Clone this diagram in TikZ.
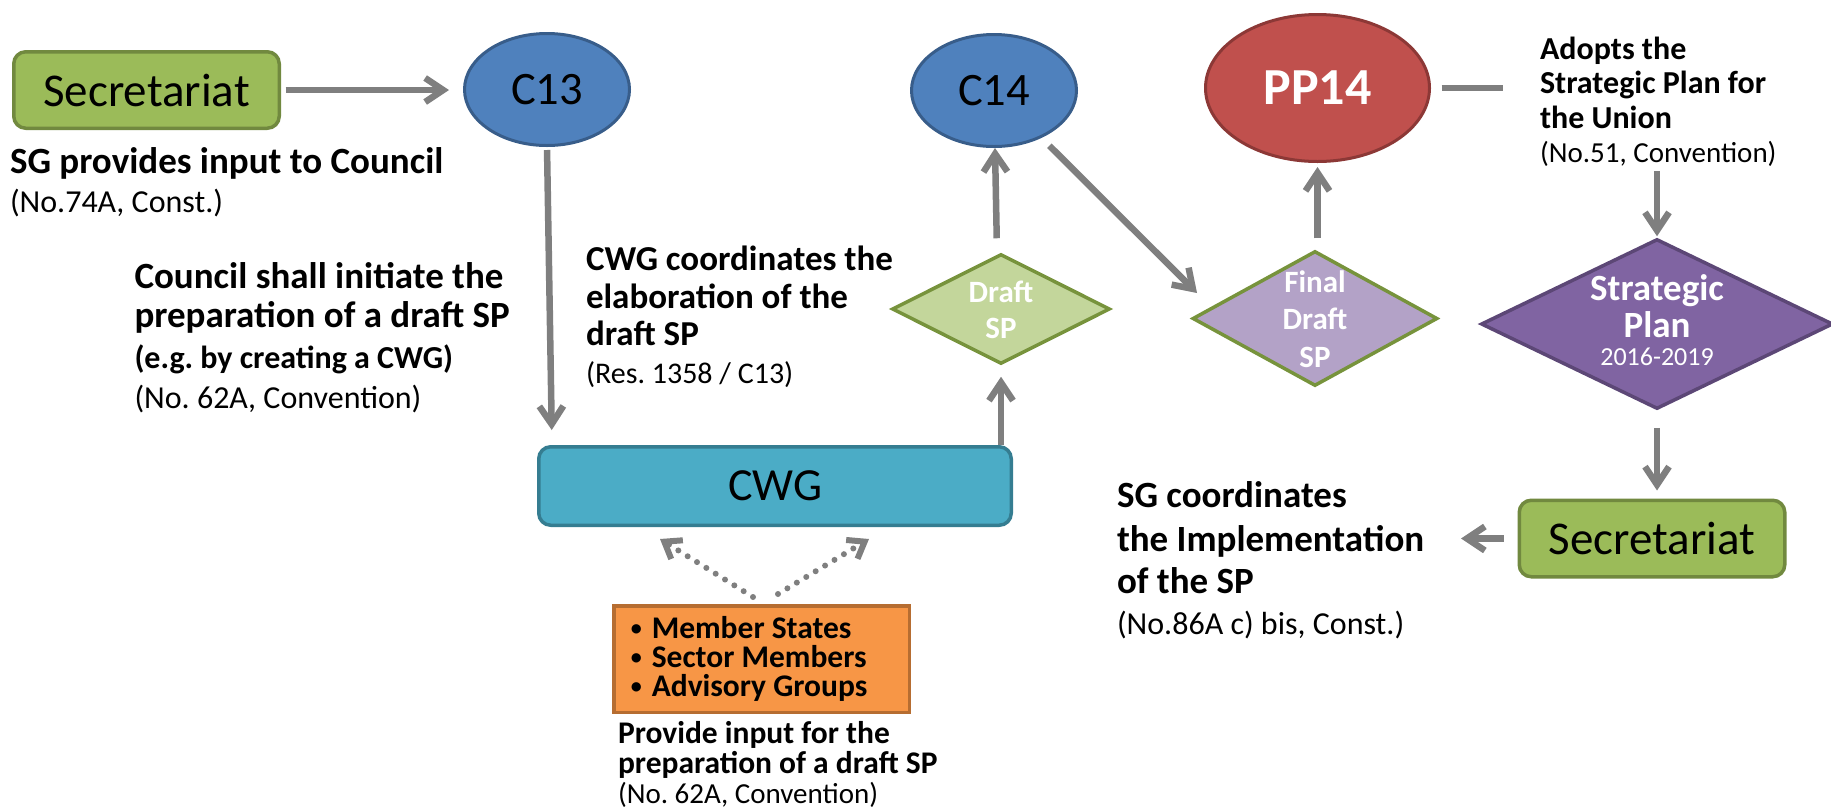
\documentclass[tikz,border=0pt]{standalone}
\usepackage{fontspec}
\setmainfont{Carlito}
\usetikzlibrary{shapes.geometric,arrows.meta}

\definecolor{arrowgray}{HTML}{7F7F7F}
\definecolor{secfill}{HTML}{9BBB59}
\definecolor{secline}{HTML}{71893F}
\definecolor{bluefill}{HTML}{4F81BD}
\definecolor{blueline}{HTML}{385D8A}
\definecolor{redfill}{HTML}{C0504D}
\definecolor{redline}{HTML}{8C3836}
\definecolor{aquafill}{HTML}{4BACC6}
\definecolor{aqualine}{HTML}{357D91}
\definecolor{orangefill}{HTML}{F79646}
\definecolor{orangeline}{HTML}{B66D31}
\definecolor{draftfill}{HTML}{C3D69B}
\definecolor{draftline}{HTML}{77933C}
\definecolor{finalfill}{HTML}{B3A2C7}
\definecolor{planfill}{HTML}{8064A2}
\definecolor{planline}{HTML}{5C4776}

\newcommand{\setfs}[2]{\fontsize{#1}{#2}\selectfont}
% natural inter-word spaces of the current font
\newcommand{\natsp}{\frenchspacing\spaceskip=0pt\xspaceskip=0pt\relax}
\newcommand{\bulletmark}{\makebox[22pt][l]{\hspace*{1pt}\raisebox{3pt}{\fontsize{22}{22}\selectfont •}}}
\AtBeginDocument{\lineskiplimit=-100pt\lineskip=0pt}

\tikzset{
  arr/.style={draw=arrowgray, line width=6.5pt, -{Straight Barb[length=18pt,width=24pt,sharp]}},
  dotarr/.style={draw=arrowgray, line width=6pt, line cap=round, dash pattern=on 0pt off 11pt,
                 -{Straight Barb[length=15pt,width=22pt,sharp]}},
  plainline/.style={draw=arrowgray, line width=6.5pt},
  secbox/.style={rectangle, rounded corners=12pt, fill=secfill, draw=secline, line width=3.5pt,
                 minimum width=265.5pt, minimum height=76.5pt, inner sep=0pt, font=\setfs{47}{56}},
  council/.style={ellipse, fill=bluefill, draw=blueline, line width=3pt, inner sep=0pt,
                  minimum width=165pt, minimum height=112pt, font=\setfs{46.5}{56}},
  diam/.style={diamond, line width=3.5pt, inner sep=0pt},
  dtext/.style={anchor=base, inner sep=0pt, text width=200pt, align=center, text=white, font=\bfseries},
  note/.style={anchor=base west, inner sep=0pt, outer sep=0pt, text width=520pt, align=left}
}

\begin{document}
\begin{tikzpicture}[x=1pt,y=-1pt]
\useasboundingbox (0,0) rectangle (1831,807);

% ---- main shapes ----
\node[secbox] (sec1) at (146.5,90) {Secretariat};
\node[council] (C13) at (547,89.5) {C13};
\node[council] (C14) at (994,90.5) {C14};
\node[ellipse, fill=redfill, draw=redline, line width=3pt, inner sep=0pt,
      minimum width=224pt, minimum height=147pt, text=white,
      font=\setfs{52}{60}\bfseries] (PP14) at (1317.5,88) {PP14};

\node[rectangle, rounded corners=12pt, fill=aquafill, draw=aqualine, line width=3.5pt,
      minimum width=472.5pt, minimum height=78.5pt, inner sep=0pt,
      font=\setfs{46}{56}] (CWG) at (775,486) {CWG};

\node[diam, fill=draftfill, draw=draftline, minimum width=218pt, minimum height=110pt] (dsp) at (1001,309) {};
\node[dtext] (dspT) at (1001,302) {\setfs{31}{36}Draft\par SP\par};

\node[diam, fill=finalfill, draw=draftline, minimum width=245pt, minimum height=135pt] (fds) at (1315,318.5) {};
\node[dtext] (fdsT) at (1315,292) {\setfs{31}{37}Final\par Draft\par \setfs{31}{38}SP\par};

\node[diam, fill=planfill, draw=planline, minimum width=352pt, minimum height=170pt] (spd) at (1657,324) {};
\node[dtext] (spdT) at (1657,300) {\setfs{37}{37}Strategic\par Plan\par \setfs{26}{28}\mdseries 2016-2019\par};

\node[secbox] (sec2) at (1652,538.5) {Secretariat};

\node[rectangle, fill=orangefill, draw=orangeline, line width=3.5pt,
      minimum width=295.5pt, minimum height=106.5pt, inner xsep=16pt, inner ysep=0pt,
      text width=263.5pt, align=left] (grp) at (761.5,659)
  {\natsp\setfs{31.5}{29}\bfseries \bulletmark Member States\par \bulletmark Sector Members\par \bulletmark Advisory Groups\par};

% ---- explanatory texts ----
\node[note] (sgin) at (10,173)
  {\natsp\setfs{37}{39}\bfseries SG provides input to Council\par
   \setfs{32}{39}\mdseries (No.74A, Const.)\par};
\node[note] (init) at (134.5,288)
  {\natsp\setfs{37}{39}\bfseries Council shall initiate the\par preparation of a draft SP\par
   \setfs{32}{41}(e.g. by creating a CWG)\par
   \setfs{32}{40}\mdseries (No. 62A, Convention)\par};
\node[note] (coord) at (586,270)
  {\natsp\setfs{35}{38}\bfseries CWG coordinates the\par elaboration of the\par
   \setfs{35}{37}draft SP\par
   \setfs{30}{38}\mdseries (Res. 1358 / C13)\par};
\node[note] (adopt) at (1540,59)
  {\natsp\setfs{32}{34}\bfseries Adopts the\par Strategic Plan for\par
   \setfs{32}{35}the Union\par
   \setfs{29}{34}\mdseries (No.51, Convention)\par};
\node[note] (impl) at (1117,507)
  {\natsp\setfs{37}{44}\bfseries SG coordinates\par the Implementation\par
   \setfs{37}{42}of the SP\par
   \setfs{32}{41}\mdseries (No.86A c) bis, Const.)\par};
\node[note] (prov) at (618,743)
  {\natsp\setfs{31.5}{30}\bfseries Provide input for the\par preparation of a draft SP\par
   \setfs{29}{30}\mdseries (No. 62A, Convention)\par};

% ---- free connector ends ----
\coordinate (fdsTip) at (1197,293);
\coordinate (adoptL) at (1503,88);
\coordinate (implTip) at (1461,538.5);

% ---- connectors ----
\draw[arr, shorten <=4.5pt, shorten >=14pt] (sec1.east) -- (sec1.east -| C13.west);
\draw[arr, shorten <=3pt, shorten >=15pt] (C13.south) -- ([xshift=5pt]C13.south |- CWG.north);
\draw[arr, shorten >=11pt] (dsp.south |- CWG.north) -- (dsp.south);
\draw[arr, shorten <=14pt] ([xshift=-4pt]dsp.north) -- ([xshift=1pt]C14.south);
\draw[arr, shorten <=11pt] (C14) -- (fdsTip);
\draw[arr, shorten <=11pt, shorten >=4pt] (PP14.south |- fds.north) -- (PP14.south);
\draw[plainline, shorten <=10.5pt] (PP14.east) -- (adoptL);
\draw[arr, shorten <=5pt, shorten >=1pt] (spd.north |- adopt.south) -- (spd.north);
\draw[arr, shorten <=17pt, shorten >=8pt] (spd.south) -- (spd.south |- sec2.north);
\draw[arr, shorten <=14pt] (sec2.west) -- (implTip);
\draw[dotarr] ([shift={(-8.5,-7)}]grp.north) -- ([shift={(-115,12)}]CWG.south);
\draw[dotarr] ([shift={(16.5,-10)}]grp.north) -- ([shift={(94,12)}]CWG.south);
\end{tikzpicture}
\end{document}
